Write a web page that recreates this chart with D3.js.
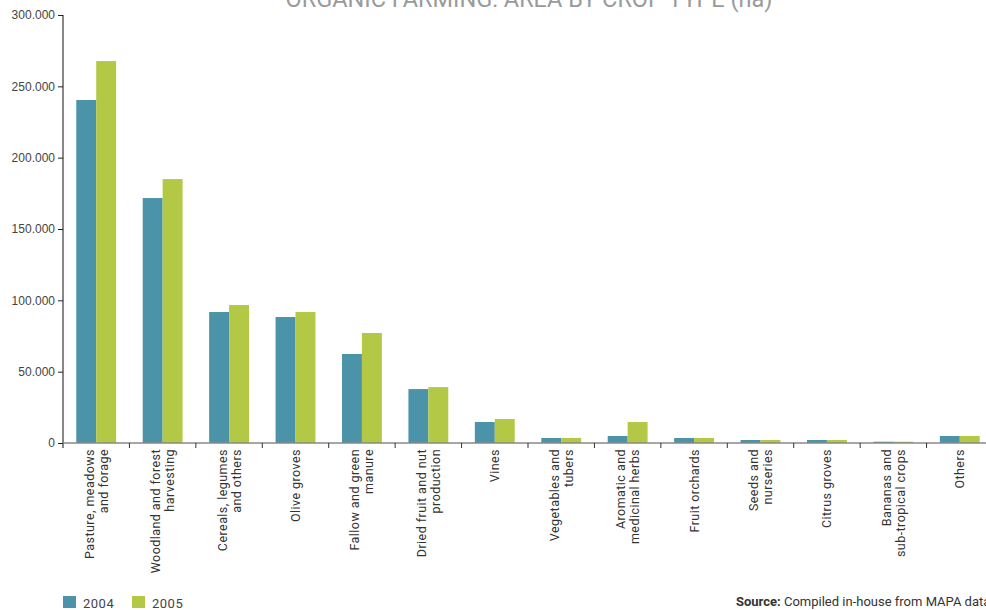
<!DOCTYPE html>
<html>
<head>
<meta charset="utf-8">
<script src="https://cdn.jsdelivr.net/npm/d3@7"></script>
<style>
  body { margin: 0; background: #fff; }
  svg { display: block; font-family: Roboto, "Liberation Sans", sans-serif; }
</style>
</head>
<body>
<svg width="986" height="610"></svg>
<script>
(function (d3) {
    'use strict';

    // categories (each label split into its lines)
    const categories = [
        ['Pasture, meadows', 'and forage'],
        ['Woodland and forest', 'harvesting'],
        ['Cereals, legumes', 'and others'],
        ['Olive groves'],
        ['Fallow and green', 'manure'],
        ['Dried fruit and nut', 'production'],
        ['Vines'],
        ['Vegetables and', 'tubers'],
        ['Aromatic and', 'medicinal herbs'],
        ['Fruit orchards'],
        ['Seeds and', 'nurseries'],
        ['Citrus groves'],
        ['Bananas and', 'sub-tropical crops'],
        ['Others']
    ];
    const series = ['2004', '2005'];
    const values2004 = [240400, 171700, 91800, 88300, 62400, 37800, 14700, 3500, 4900, 3500, 2100, 2100, 900, 4900];
    const values2005 = [267700, 185000, 96700, 91800, 77100, 39200, 16800, 3500, 14700, 3500, 2100, 2100, 900, 4900];
    const yTicks = [0, 50000, 100000, 150000, 200000, 250000, 300000];
    const colors = ['#4b93a8', '#b3c945'];

    const svg = d3.select('svg');
    const margin = { top: 15, left: 63, bottom: 167 };
    const innerHeight = +svg.attr('height') - margin.top - margin.bottom;

    const data = categories.map((c, i) => ({ key: i, label: c, values: [values2004[i], values2005[i]] }));

    const x0 = d3.scaleBand()
        .domain(data.map(d => d.key))
        .range([0, 930])
        .paddingInner(0.4)
        .paddingOuter(0.2);
    const x1 = d3.scaleBand()
        .domain([0, 1])
        .range([0, x0.bandwidth()]);
    const y = d3.scaleLinear()
        .domain([0, 300000])
        .range([innerHeight, 0]);

    const g = svg.append('g')
        .attr('transform', `translate(${margin.left},${margin.top})`);

    // title, cut at the top edge like the original
    svg.append('text')
        .attr('x', 529)
        .attr('y', 7)
        .attr('text-anchor', 'middle')
        .attr('fill', '#9a9a9a')
        .style('font-size', '23.5px')
        .text('ORGANIC FARMING: AREA BY CROP TYPE (ha)');

    // bars
    const groups = g.selectAll('.grp').data(data)
        .enter().append('g')
        .attr('class', 'grp')
        .attr('transform', d => `translate(${x0(d.key)},0)`);
    groups.selectAll('rect').data(d => d.values)
        .enter().append('rect')
        .attr('x', (v, i) => x1(i))
        .attr('y', v => y(v))
        .attr('width', x1.bandwidth())
        .attr('height', v => innerHeight - y(v))
        .attr('fill', (v, i) => colors[i]);

    // y axis
    const yAxis = d3.axisLeft(y)
        .tickValues(yTicks)
        .tickFormat(d => d3.format(',')(d).replace(/,/g, '.'))
        .tickSize(5)
        .tickPadding(3);
    const yG = g.append('g').call(yAxis);
    yG.select('.domain').remove();
    yG.selectAll('.tick line').attr('stroke', '#222');
    yG.selectAll('.tick text')
        .attr('fill', '#444')
        .style('font-family', '"Liberation Sans", Arial, sans-serif')
        .style('font-size', '12px');
    g.append('line')
        .attr('x1', 0).attr('x2', 0)
        .attr('y1', 0).attr('y2', innerHeight + 5)
        .attr('stroke', '#111');

    // x axis baseline and boundary ticks
    const step = x0.step();
    g.append('line')
        .attr('x1', 0).attr('x2', 930)
        .attr('y1', innerHeight).attr('y2', innerHeight)
        .attr('stroke', '#888').attr('stroke-width', 1.5);
    g.selectAll('.bt').data(d3.range(1, categories.length))
        .enter().append('line')
        .attr('class', 'bt')
        .attr('x1', i => i * step).attr('x2', i => i * step)
        .attr('y1', innerHeight).attr('y2', innerHeight + 5)
        .attr('stroke', '#333');

    // rotated category labels
    const labels = g.selectAll('.lbl').data(data)
        .enter().append('text')
        .attr('class', 'lbl')
        .attr('transform', d => `translate(${x0(d.key) + x0.bandwidth() / 2},${innerHeight + 6}) rotate(-90)`)
        .attr('text-anchor', 'end')
        .attr('fill', '#333')
        .style('font-size', '12.5px')
        .style('letter-spacing', '0.45px');
    labels.selectAll('tspan').data(d => d.label.map((t, j) => ({ t, j, n: d.label.length })))
        .enter().append('tspan')
        .attr('x', 0)
        .attr('y', d => (d.j - (d.n - 1) / 2) * 14 + 4.5)
        .text(d => d.t);

    // legend
    const legend = svg.append('g').attr('transform', 'translate(63,596)');
    const li = legend.selectAll('g').data(series)
        .enter().append('g')
        .attr('transform', (s, i) => `translate(${i * 69},0)`);
    li.append('rect')
        .attr('width', 13).attr('height', 12)
        .attr('fill', (s, i) => colors[i]);
    li.append('text')
        .attr('x', 20).attr('y', 12)
        .attr('fill', '#444')
        .style('font-size', '13px')
        .style('letter-spacing', '0.5px')
        .text(s => s);

    // source note, running off the right edge like the original
    const src = svg.append('text')
        .attr('x', 736).attr('y', 606)
        .attr('fill', '#333')
        .style('font-size', '13px');
    src.append('tspan').style('font-weight', 'bold').text('Source:');
    src.append('tspan').text(' Compiled in-house from MAPA data');
}(d3));
</script>
</body>
</html>
